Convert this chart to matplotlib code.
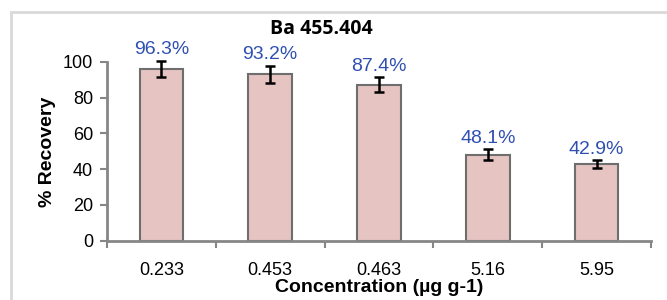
import matplotlib
matplotlib.use("Agg")
import matplotlib.pyplot as plt
from matplotlib.patches import Rectangle

# --- DATA ---
concentrations = ["0.233", "0.453", "0.463", "5.16", "5.95"]
recovery = [96.3, 93.2, 87.4, 48.1, 42.9]
errors = [4.5, 4.8, 4.2, 3.0, 2.4]
labels = ["96.3%", "93.2%", "87.4%", "48.1%", "42.9%"]

plt.rcParams['font.family'] = ['Liberation Sans', 'DejaVu Sans']

fig = plt.figure(figsize=(6.67, 3.0), dpi=100)

# light grey chart-area frame (runs off right/bottom like the source)
fig.patches.append(Rectangle((11 / 667, -0.05), 1.0, 1 - 12 / 300 + 0.05,
                             transform=fig.transFigure, fill=False,
                             edgecolor='#D9D9D9', linewidth=2))

ax = fig.add_axes([107 / 667, 1 - 240.7 / 300, (651 - 107) / 667, (240.7 - 62) / 300])

x = range(len(concentrations))
bars = ax.bar(x, recovery, width=0.4, color='#E6C4C2', edgecolor='#6E6E6E', linewidth=1.5)
ax.errorbar(x, recovery, yerr=errors, fmt='none', ecolor='black',
            elinewidth=1.8, capsize=3.5, capthick=1.8, clip_on=False)

for xi, v, e, lab in zip(x, recovery, errors, labels):
    ax.annotate(lab, (xi, v + e), xytext=(0, 1.5), textcoords='offset points',
                ha='center', va='bottom', color='#2F50B0', fontsize=14,
                annotation_clip=False)

ax.set_xlim(-0.5, len(concentrations) - 0.5)
ax.set_ylim(0, 100)
ax.set_yticks([0, 20, 40, 60, 80, 100])
ax.set_xticks(list(x))
ax.set_xticklabels(concentrations)
ax.set_xticks([i + 0.5 for i in range(-1, len(concentrations))], minor=True)
ax.tick_params(axis='x', which='major', length=0, pad=15, labelsize=13)
ax.tick_params(axis='x', which='minor', length=5, width=1.5, color='#868686')
ax.tick_params(axis='y', length=5, width=1.5, color='#868686', labelsize=13, pad=5)

for s in ['top', 'right']:
    ax.spines[s].set_visible(False)
for s in ['left', 'bottom']:
    ax.spines[s].set_color('#868686')
    ax.spines[s].set_linewidth(2)

ax.set_ylabel("% Recovery", fontsize=14, fontweight='bold', labelpad=5)
ax.set_xlabel("Concentration (µg g-1)", fontsize=14, fontweight='bold', labelpad=0)

fig.text(321 / 667, 1 - 29.5 / 300, "Ba 455.404", ha='center', va='center',
         fontsize=14, fontweight='bold', family=['Open Sans', 'DejaVu Sans'])

fig.savefig("out.png", dpi=100)
